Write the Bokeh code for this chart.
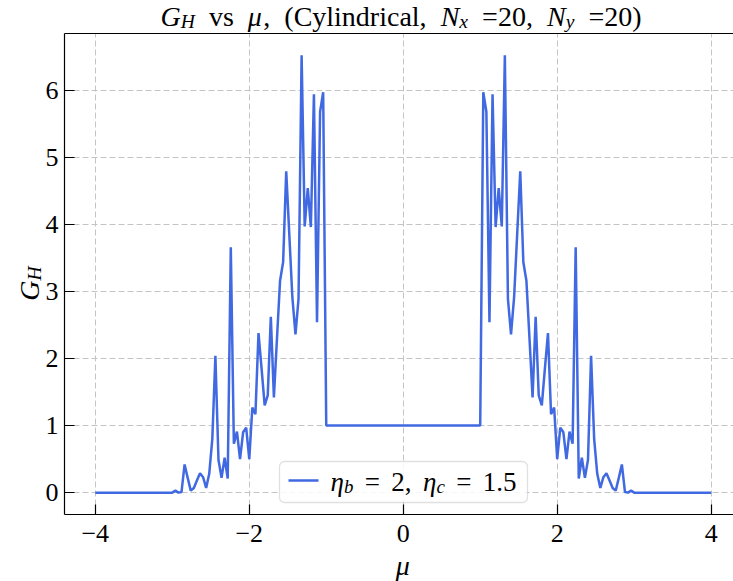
import math
import numpy as np
from bokeh.plotting import figure
from bokeh.models import Range1d, FixedTicker, LinearAxis, BoxAnnotation
from bokeh.embed import file_html
from bokeh.resources import INLINE
from bokeh.core.properties import value

# ---------------- data ----------------
mu_start, mu_stop, mu_count = -4.0, 4.0, 201

gh_outer_left = [0.00, 0.00, 0.00, 0.00, 0.00, 0.00, 0.00, 0.00, 0.00, 0.00,
                 0.00, 0.00, 0.00, 0.00, 0.00, 0.00, 0.00, 0.00, 0.00, 0.00,
                 0.00, 0.00, 0.00, 0.00, 0.00, 0.00]
gh_left = [0.03, 0.00, 0.01, 0.42, 0.22, 0.03, 0.07, 0.18, 0.29, 0.23,
           0.07, 0.28, 0.80, 2.04, 0.49, 0.22, 0.52, 0.21, 3.66, 0.73,
           0.91, 0.50, 0.90, 0.97, 0.50, 1.27, 1.17, 2.38, 1.85, 1.30,
           1.45, 2.62, 1.42, 2.30, 3.16, 3.44, 4.79, 3.85, 2.91, 2.36,
           2.89, 6.52, 3.97, 4.54, 3.96, 5.94, 2.54, 5.68, 5.97, 1.00]
gh_center = [1.00, 1.00, 1.00, 1.00, 1.00, 1.00, 1.00, 1.00, 1.00, 1.00,
             1.00, 1.00, 1.00, 1.00, 1.00, 1.00, 1.00, 1.00, 1.00, 1.00,
             1.00, 1.00, 1.00, 1.00, 1.00, 1.00, 1.00, 1.00, 1.00, 1.00,
             1.00, 1.00, 1.00, 1.00, 1.00, 1.00, 1.00, 1.00, 1.00, 1.00,
             1.00, 1.00, 1.00, 1.00, 1.00, 1.00, 1.00, 1.00, 1.00]
gh_right = [1.00, 5.97, 5.68, 2.54, 5.94, 3.96, 4.54, 3.97, 6.52, 2.89,
            2.36, 2.91, 3.85, 4.79, 3.44, 3.16, 2.30, 1.42, 2.62, 1.45,
            1.30, 1.85, 2.38, 1.17, 1.27, 0.50, 0.97, 0.90, 0.50, 0.91,
            0.73, 3.66, 0.21, 0.52, 0.22, 0.49, 2.04, 0.80, 0.28, 0.07,
            0.23, 0.29, 0.18, 0.07, 0.03, 0.22, 0.42, 0.01, 0.00, 0.03]
gh_outer_right = [0.00, 0.00, 0.00, 0.00, 0.00, 0.00, 0.00, 0.00, 0.00, 0.00,
                  0.00, 0.00, 0.00, 0.00, 0.00, 0.00, 0.00, 0.00, 0.00, 0.00,
                  0.00, 0.00, 0.00, 0.00, 0.00, 0.00]

x_ticks = [-4, -2, 0, 2, 4]
x_tick_labels = ["\u22124", "\u22122", "0", "2", "4"]
y_ticks = [0, 1, 2, 3, 4, 5, 6]
y_tick_labels = ["0", "1", "2", "3", "4", "5", "6"]

title_tokens = [("G", "it"), ("H", "sub"), (" ", "sp"), ("vs", "rm"), (" ", "sp"),
                ("\u03bc", "it"), (",", "rm"), (" ", "sp"), ("(Cylindrical,", "rm"),
                (" ", "sp"), ("N", "it"), ("x", "sub"), (" ", "sp"), ("=20,", "rm"),
                (" ", "sp"), ("N", "it"), ("y", "sub"), (" ", "sp"), ("=20)", "rm")]
ylabel_tokens = [("G", "it"), ("H", "sub")]
xlabel_tokens = [("\u03bc", "it")]
legend_tokens = [("\u03b7", "it"), ("b", "sub"), (" ", "sp"), ("=", "rm"), (" ", "sp"),
                 ("2,", "rm"), (" ", "sp"), ("\u03b7", "it"), ("c", "sub"), (" ", "sp"),
                 ("=", "rm"), (" ", "sp"), ("1.5", "rm")]

mu = np.linspace(mu_start, mu_stop, mu_count)
gh = np.array(gh_outer_left + gh_left + gh_center + gh_right + gh_outer_right)

# ---------------- layout ----------------
W, H = 733, 581
FL, FR, FT, FB = 64, 733, 33, 514
X0, X1 = -4.40, 4.29
Y0, Y1 = -0.326, 6.846
FONT = "Liberation Serif"
FS = 26
LINE_COLOR = "#4169e1"


def dx(px):
    return X0 + (px - FL) * (X1 - X0) / (FR - FL)


def dy(py):
    return Y0 + (FB - py) * (Y1 - Y0) / (FB - FT)


# approximate advance widths (em) of Liberation Serif
RM = {",": 0.25, "(": 0.333, ")": 0.333, "=": 0.564, ".": 0.25, "C": 0.667,
      "y": 0.5, "l": 0.278, "i": 0.278, "n": 0.5, "d": 0.5, "r": 0.333,
      "c": 0.444, "a": 0.444, "v": 0.5, "s": 0.389}
IT = {"G": 0.722, "H": 0.722, "N": 0.667, "x": 0.444, "y": 0.444, "b": 0.5,
      "c": 0.444, "\u03bc": 0.55, "\u03b7": 0.5}


def add_text(p, tokens, size, base, start=None, end=None, center=None,
             space=8.0, rotate=False, drop=5):
    widths = []
    for text, style in tokens:
        if style == "sp":
            widths.append(None)
            continue
        metr = IT if style in ("it", "sub") else RM
        sc = 0.7 if style == "sub" else 1.0
        widths.append(sum(metr.get(ch, 0.5) for ch in text) * size * sc)
    content = sum(w for w in widths if w is not None)
    nsp = sum(1 for w in widths if w is None)
    if start is not None and end is not None and nsp:
        space = (end - start - content) / nsp
    total = content + nsp * space
    if start is None:
        start = center - total / 2 if not rotate else center + total / 2
    cur = 0.0
    for (text, style), w in zip(tokens, widths):
        if w is None:
            cur += space
            continue
        fsz = size * 0.7 if style == "sub" else size
        dd = drop if style == "sub" else 0
        if rotate:
            px, py, ang = base + dd, start - cur, math.pi / 2
        else:
            px, py, ang = start + cur, base + dd, 0.0
        p.text(x=[dx(px)], y=[dy(py)], text=[text],
               text_font=value(FONT), text_font_size=value(f"{fsz:.1f}px"),
               text_font_style=value("italic" if style != "rm" else "normal"),
               text_color="black", text_align=value("left"),
               text_baseline=value("alphabetic"), angle=ang, level="overlay")
        cur += w


p = figure(width=W, height=H, x_range=Range1d(X0, X1), y_range=Range1d(Y0, Y1),
           output_backend="svg", toolbar_location=None,
           min_border_left=FL, min_border_right=W - FR,
           min_border_top=FT, min_border_bottom=H - FB)
p.outline_line_color = None
p.background_fill_color = "white"
p.border_fill_color = "white"

p.xaxis.ticker = FixedTicker(ticks=x_ticks)
p.yaxis.ticker = FixedTicker(ticks=y_ticks)
p.xgrid.ticker = FixedTicker(ticks=x_ticks)
p.ygrid.ticker = FixedTicker(ticks=y_ticks)
p.xaxis.major_label_overrides = dict(zip(x_ticks, x_tick_labels))
p.yaxis.major_label_overrides = dict(zip(y_ticks, y_tick_labels))

for ax in (p.xaxis[0], p.yaxis[0]):
    ax.axis_line_color = "black"
    ax.axis_line_width = 1.2
    ax.major_tick_in = 10
    ax.major_tick_out = 0
    ax.major_tick_line_width = 1.2
    ax.minor_tick_in = 0
    ax.minor_tick_out = 0
    ax.major_label_text_font = FONT
    ax.major_label_text_font_size = f"{FS}px"
    ax.major_label_text_color = "black"
p.xaxis.major_label_standoff = 10
p.yaxis.major_label_standoff = 6

top = LinearAxis(ticker=FixedTicker(ticks=[]), major_tick_in=0, major_tick_out=0,
                 minor_tick_in=0, minor_tick_out=0, major_label_text_font_size="0px",
                 axis_line_color="black", axis_line_width=1.2)
p.add_layout(top, "above")

for g in (p.xgrid[0], p.ygrid[0]):
    g.grid_line_color = "#c4c4c4"
    g.grid_line_dash = "6 3"
    g.grid_line_width = 1

p.line(mu, gh, line_color=LINE_COLOR, line_width=2.5)

# legend
p.add_layout(BoxAnnotation(left=dx(279), right=dx(527), top=dy(461), bottom=dy(502),
                           fill_color="white", fill_alpha=0.85,
                           line_color="#9a9a9a", line_width=1.3, border_radius=5,
                           level="annotation"))
p.segment(x0=[dx(288)], y0=[dy(480)], x1=[dx(318)], y1=[dy(480)],
          line_color=LINE_COLOR, line_width=2.5, level="overlay")
add_text(p, legend_tokens, 27, 481, start=330, end=516)

# title and axis labels
add_text(p, title_tokens, 28, 16, start=160, end=641)
add_text(p, xlabel_tokens, 28, 565, center=403)
add_text(p, ylabel_tokens, 28, 29, center=283, rotate=True)

open("out.html", "w").write(file_html(p, INLINE))
